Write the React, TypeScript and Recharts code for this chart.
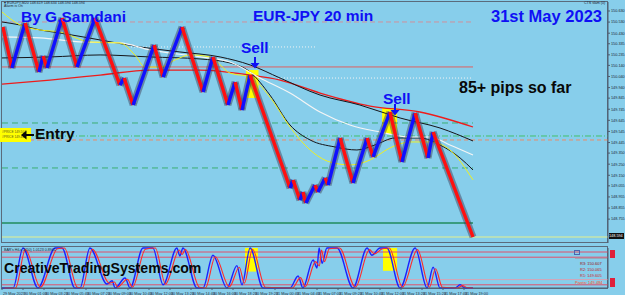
import React from 'react';
import { LineChart, Line, XAxis, YAxis, ReferenceLine, ReferenceArea } from 'recharts';

// renko turning points (bar index / price)
const pivotBars = [0.3, 3.3, 7.7, 12.3, 13.7, 15, 20, 25, 31, 39.3, 40.7, 43.7, 50.7, 53.7, 60, 67, 70.3, 75.3, 77.7, 80, 82.7, 96, 97, 99.3, 100.3, 101.3, 104.3, 105.3, 107.7, 108.7, 112.7, 117, 121.7, 123.7, 129.3, 133.3, 137.7, 142, 143.7, 157];
const pivotPrices = [150.486, 150.116, 150.522, 150.08, 150.225, 150.116, 150.567, 150.125, 150.567, 149.963, 150.026, 149.783, 150.324, 150.035, 150.486, 149.9, 150.216, 149.783, 149.99, 149.738, 150.053, 149.035, 149.107, 148.927, 148.999, 148.9, 149.062, 148.999, 149.126, 149.062, 149.486, 149.08, 149.486, 149.315, 149.72, 149.27, 149.711, 149.306, 149.54, 148.594];

// moving averages
const redMaBars = [0, 16, 32.7, 49.3, 66, 82.7, 92.7, 106, 122.7, 139.3, 157];
const redMa = [149.972, 150.008, 150.053, 150.098, 150.098, 150.053, 150.008, 149.891, 149.774, 149.72, 149.585];
const blackMaBars = [0, 6, 12.7, 19.3, 32.7, 46, 59.3, 72.7, 82.7, 92.7, 106, 119.3, 132.7, 146, 157];
const blackMa = [150.531, 150.504, 150.459, 150.432, 150.369, 150.306, 150.261, 150.216, 150.144, 150.026, 149.873, 149.783, 149.666, 149.576, 149.459];
const black2MaBars = [0, 16, 32.7, 49.3, 66, 76, 82.7, 89.3, 96, 102.7, 111, 118.3, 124.3, 131, 139.3, 146, 152.7, 157];
const black2Ma = [150.207, 150.216, 150.234, 150.216, 150.198, 150.162, 150.08, 149.873, 149.603, 149.468, 149.405, 149.378, 149.423, 149.486, 149.486, 149.423, 149.306, 149.198];
const whiteMaBars = [0, 12.7, 26, 39.3, 49.3, 66, 76, 86, 96, 106, 116, 126, 136, 142.7, 149.3, 157];
const whiteMa = [150.396, 150.387, 150.351, 150.342, 150.279, 150.216, 150.171, 150.026, 149.891, 149.72, 149.603, 149.54, 149.495, 149.495, 149.423, 149.333];
const yellowMaBars = [0, 6, 12.7, 19.3, 29.3, 39.3, 44.3, 47.7, 52.7, 57.7, 62.7, 69.3, 76, 82.7, 89.3, 96, 102.7, 109.3, 116, 122.7, 129.3, 136, 142.7, 149.3, 157];
const yellowMa = [150.621, 150.504, 150.459, 150.441, 150.351, 150.342, 150.234, 150.125, 150.125, 150.189, 150.234, 150.216, 150.071, 150.035, 149.855, 149.585, 149.378, 149.27, 149.243, 149.288, 149.396, 149.45, 149.45, 149.378, 149.108];

// stochastic
const stochBars = [0, 3.7, 7, 12, 17.7, 20, 24.3, 26, 29.3, 35, 36.7, 37.7, 41, 42.7, 47, 50.3, 53.7, 58.3, 59.3, 60.3, 65, 67, 70.3, 75, 78.3, 80, 82.7, 87, 96, 98.7, 100.3, 103.7, 105, 105.7, 106.7, 108.3, 111.7, 117, 121.7, 123.3, 126, 128.3, 132.7, 137.7, 141.7, 143.7, 146, 151, 152.7, 154.3, 157];
const stochK = [0, 0, 100, 0, 100, 100, 0, 0, 100, 10, 18, 0, 25, 0, 100, 100, 8, 100, 80, 100, 0, 0, 82, 0, 56, 8, 100, 0, 0, 30, 0, 70, 50, 100, 62, 100, 100, 0, 100, 82, 100, 100, 0, 100, 0, 52, 0, 0, 8, 0, 0];
const stochDBars = [0.8, 4.5, 7.8, 12.8, 18.5, 20.8, 25.1, 26.8, 30.1, 35.8, 37.5, 38.5, 41.8, 43.5, 47.8, 51.1, 54.5, 59.1, 60.1, 61.1, 65.8, 67.8, 71.1, 75.8, 79.1, 80.8, 83.5, 87.8, 96.8, 99.5, 101.1, 104.5, 105.8, 106.5, 107.5, 109.1, 112.5, 117.8, 122.5, 124.1, 126.8, 129.1, 133.5, 138.5, 142.5, 144.5, 146.8, 151.8, 153.5, 155.1, 157];
const stochD = [0, 0, 96, 2, 98, 100, 2, 0, 97, 12, 15, 2, 22, 2, 97, 100, 10, 95, 84, 97, 2, 0, 78, 3, 52, 12, 97, 2, 0, 26, 3, 66, 55, 95, 66, 98, 100, 2, 96, 85, 98, 100, 2, 96, 2, 48, 2, 0, 6, 1, 0];
const stochLevels = [90, 77, 21, 8];

const priceTicks = [150.63, 150.53, 150.43, 150.335, 150.235, 150.14, 150.04, 149.94, 149.845, 149.745, 149.645, 149.545, 149.445, 149.35, 149.25, 149.15, 149.055, 148.955, 148.855, 148.755];
const dateTicks = [0, 7, 14, 21, 28, 35, 42, 49, 56, 63, 70, 77, 84, 91, 98, 105, 112, 119, 126, 133, 140, 147, 154];
const dateLabels = ['29 May 2023', '30 May 01:00', '30 May 03:20', '30 May 05:40', '30 May 07:20', '30 May 09:00', '30 May 10:40', '30 May 12:00', '30 May 13:20', '30 May 14:40', '30 May 16:00', '30 May 18:20', '30 May 19:20', '31 May 00:40', '31 May 04:40', '31 May 07:00', '31 May 09:20', '31 May 10:40', '31 May 12:00', '31 May 13:20', '31 May 15:20', '31 May 17:40', '31 May 19:00'];

// horizontal levels
const upperDash = 150.531;
const upperSolid = 150.126;
const dotHigh = 150.306;
const dotLow = 150.026;
const greenUpper = 149.621;
const entryPrice = 149.504;
const entryStop = 149.468;
const greenLower = 149.216;
const supportLine = 148.72;
const lastPrice = 148.594;

const pts = (xs: number[], ys: number[]) => xs.map((x, i) => ({ x, y: ys[i] }));

const legs = pivotBars.slice(1).map((b, i) => ({
  data: [{ x: pivotBars[i], y: pivotPrices[i] }, { x: b, y: pivotPrices[i + 1] }],
  up: pivotPrices[i + 1] > pivotPrices[i],
}));

const FONT = '"Liberation Sans", Arial, sans-serif';
const BLUE = '#0f10f5';

const DateTick = (props: any) => {
  const { x, y, payload } = props;
  const idx = dateTicks.indexOf(payload.value);
  return (
    <text x={x + 1} y={y + 3} fontSize={3.8} fill="#2a3140" textAnchor="start" fontFamily={FONT}>
      {dateLabels[idx]}
    </text>
  );
};

const DownArrow = ({ left, top }: { left: number; top: number }) => (
  <svg style={{ position: 'absolute', left, top }} width={10} height={12}>
    <line x1={5} y1={0} x2={5} y2={7} stroke={BLUE} strokeWidth={2} />
    <polygon points="0.5,6 9.5,6 5,11.5" fill={BLUE} />
  </svg>
);

const label = (text: string, left: number, top: number, size: number, color: string) => (
  <div style={{ position: 'absolute', left, top, fontSize: size, lineHeight: 1, fontWeight: 'bold', color, whiteSpace: 'nowrap', fontFamily: FONT }}>
    {text}
  </div>
);

const tiny = (text: string, left: number, top: number, color = '#1c2430', size = 3.6) => (
  <div style={{ position: 'absolute', left, top, fontSize: size, lineHeight: 1, color, whiteSpace: 'nowrap', fontFamily: FONT }}>
    {text}
  </div>
);

export default function App() {
  return (
    <div style={{ position: 'absolute', left: 0, top: 0, width: 625, height: 295, background: '#87ceeb', overflow: 'hidden', fontFamily: FONT }}>
      {/* panel frames */}
      <div style={{ position: 'absolute', left: 1, top: 1, width: 607, height: 242, border: '1px solid #5a6b7c', boxSizing: 'border-box' }} />
      <div style={{ position: 'absolute', left: 1, top: 246, width: 607, height: 43, border: '1px solid #5a6b7c', boxSizing: 'border-box' }} />

      <LineChart width={625} height={245} margin={{ top: 2, right: 0, bottom: 2, left: 2 }} style={{ position: 'absolute', left: 0, top: 0 }}>
        <XAxis type="number" dataKey="x" domain={[0, 202]} hide allowDataOverflow />
        <YAxis
          orientation="right"
          type="number"
          domain={[148.54, 150.711]}
          ticks={priceTicks}
          interval={0}
          allowDataOverflow
          width={17}
          tickSize={2}
          tickMargin={1}
          tick={{ fontSize: 3.8, fill: '#1b2535' }}
          tickFormatter={(v: number) => v.toFixed(3)}
          axisLine={{ stroke: '#4d5d70' }}
          tickLine={{ stroke: '#4d5d70' }}
        />
        <ReferenceArea x1={81.3} x2={85.5} y1={149.846} y2={150.098} fill="#ffff00" fillOpacity={1} stroke="none" />
        <ReferenceArea x1={126.7} x2={131.7} y1={149.522} y2={149.756} fill="#ffff00" fillOpacity={1} stroke="none" />

        <ReferenceLine segment={[{ x: 0, y: upperDash }, { x: 157, y: upperDash }]} stroke="#d0909c" strokeDasharray="5 3" />
        <ReferenceLine segment={[{ x: 0, y: upperSolid }, { x: 157, y: upperSolid }]} stroke="#e06060" />
        <ReferenceLine segment={[{ x: 43, y: dotHigh }, { x: 105, y: dotHigh }]} stroke="#f4f4f4" strokeDasharray="1 2" />
        <ReferenceLine segment={[{ x: 92, y: dotLow }, { x: 157, y: dotLow }]} stroke="#f4f4f4" strokeDasharray="1 2" />
        <ReferenceLine segment={[{ x: 0, y: greenUpper }, { x: 157, y: greenUpper }]} stroke="#3cae72" strokeDasharray="6 4" />
        <ReferenceLine segment={[{ x: 0, y: entryPrice }, { x: 202, y: entryPrice }]} stroke="#45c06c" strokeDasharray="6 2 1 2" />
        <ReferenceLine segment={[{ x: 0, y: entryStop }, { x: 202, y: entryStop }]} stroke="#ec8a66" strokeDasharray="4 3" />
        <ReferenceLine segment={[{ x: 0, y: greenLower }, { x: 157, y: greenLower }]} stroke="#3cae72" strokeDasharray="6 4" />
        <ReferenceLine segment={[{ x: 0, y: supportLine }, { x: 157, y: supportLine }]} stroke="#3a9c80" strokeWidth={2} />
        <ReferenceLine segment={[{ x: 0, y: lastPrice }, { x: 202, y: lastPrice }]} stroke="#e4f08c" />

        <Line data={pts(redMaBars, redMa)} dataKey="y" type="monotone" stroke="#ee1c1c" strokeWidth={1.3} dot={false} isAnimationActive={false} />
        <Line data={pts(blackMaBars, blackMa)} dataKey="y" type="monotone" stroke="#15151a" strokeWidth={1} dot={false} isAnimationActive={false} />
        <Line data={pts(black2MaBars, black2Ma)} dataKey="y" type="monotone" stroke="#15151a" strokeWidth={1} dot={false} isAnimationActive={false} />
        <Line data={pts(whiteMaBars, whiteMa)} dataKey="y" type="monotone" stroke="#f5f5f5" strokeWidth={1.2} dot={false} isAnimationActive={false} />
        <Line data={pts(yellowMaBars, yellowMa)} dataKey="y" type="monotone" stroke="#f0f020" strokeWidth={1} dot={false} isAnimationActive={false} />

        {legs.map((leg, i) => (
          <Line key={`s${i}`} data={leg.data} dataKey="y" type="linear" stroke="#3b3550" strokeOpacity={0.45} strokeWidth={7} dot={false} isAnimationActive={false} />
        ))}
        {legs.map((leg, i) => (
          <Line key={`l${i}`} data={leg.data} dataKey="y" type="linear" stroke={leg.up ? '#1010ff' : '#ff1010'} strokeWidth={3.4} dot={false} isAnimationActive={false} />
        ))}
      </LineChart>

      <LineChart width={625} height={50} margin={{ top: 3, right: 0, bottom: 0, left: 2 }} style={{ position: 'absolute', left: 0, top: 245 }}>
        <XAxis type="number" dataKey="x" domain={[0, 202]} ticks={dateTicks} interval={0} height={7} tickSize={2} tick={<DateTick />} axisLine={{ stroke: '#4d5d70' }} tickLine={{ stroke: '#4d5d70' }} />
        <YAxis orientation="right" type="number" domain={[0, 100]} width={17} ticks={[]} tick={false} axisLine={{ stroke: '#4d5d70' }} />
        <ReferenceArea x1={81} x2={85.3} y1={41} y2={100} fill="#ffff00" fillOpacity={1} stroke="none" />
        <ReferenceArea x1={127} x2={131.7} y1={43} y2={100} fill="#ffff00" fillOpacity={1} stroke="none" />
        {stochLevels.map((lv, i) => (
          <ReferenceLine key={lv} y={lv} stroke={i === 2 ? '#d8a2b4' : '#e0506a'} />
        ))}
        <Line data={pts(stochBars, stochK)} dataKey="y" type="monotone" stroke="#1a22ff" strokeWidth={1.4} dot={false} isAnimationActive={false} />
        <Line data={pts(stochDBars, stochD)} dataKey="y" type="monotone" stroke="#ff2a2a" strokeWidth={1.1} dot={false} isAnimationActive={false} />
      </LineChart>

      {/* header and annotations */}
      {tiny('\u25BE EURJPY,M20  148.619 148.634 148.594 148.594', 4, 1.5)}
      {tiny('Alarm is On', 4, 5)}
      {tiny('CTS slam (0)', 584, 2)}
      {tiny("BAR's HiLo 2(50) 1.0123 0.8941", 4, 249)}

      {label('By G.Samdani', 21, 9, 15.5, BLUE)}
      {label('EUR-JPY 20 min', 253, 8, 15.5, BLUE)}
      {label('31st May 2023', 491, 8, 16.5, BLUE)}

      {label('Sell', 241, 40, 15.5, BLUE)}
      <DownArrow left={250} top={57} />
      {label('Sell', 383, 91, 15.5, BLUE)}
      <DownArrow left={390} top={104} />

      {label('85+ pips so far', 459, 80, 16, '#080808')}

      <div style={{ position: 'absolute', left: 0, top: 128, width: 31, height: 14, background: '#ffff00' }} />
      {tiny('#PRICE 149.504', 2, 131, '#5a5a20', 3.2)}
      {tiny('#PRICE 149.468', 2, 136, '#5a5a20', 3.2)}
      <svg style={{ position: 'absolute', left: 21, top: 130 }} width={13} height={10}>
        <polygon points="0,5 5.5,0.5 5.5,9.5" fill="#080808" />
        <line x1={4} y1={5} x2={13} y2={5} stroke="#080808" strokeWidth={2} />
      </svg>
      {label('Entry', 35, 126, 15.5, '#080808')}

      {label('CreativeTradingSystems.com', 4, 261, 14.1, '#080808')}

      {/* current price box */}
      <div style={{ position: 'absolute', left: 609, top: 233, width: 15, height: 6, background: '#101010', color: '#ffffff', fontSize: 3.8, lineHeight: '6px', fontFamily: FONT }}>148.594</div>

      {/* pivot labels in sub panel */}
      <div style={{ position: 'absolute', left: 574, top: 250, width: 6, height: 5, border: '1px solid #4a64b0', boxSizing: 'border-box' }} />
      <div style={{ position: 'absolute', left: 575, top: 258, width: 32, height: 1, background: '#9aa7b4' }} />
      {tiny('R3: 150.607', 580, 262, '#9a1010', 4)}
      {tiny('R2: 150.065', 580, 268, '#c01a1a', 4)}
      {tiny('R1: 149.605', 580, 274, '#d02828', 4)}
      {tiny('Pivots: 149.484', 575, 281, '#ff4a10', 4)}
      <div style={{ position: 'absolute', left: 610, top: 250, width: 5, height: 8, background: '#e0203a' }} />
      <div style={{ position: 'absolute', left: 610, top: 278, width: 5, height: 9, background: '#e0203a' }} />
    </div>
  );
}
